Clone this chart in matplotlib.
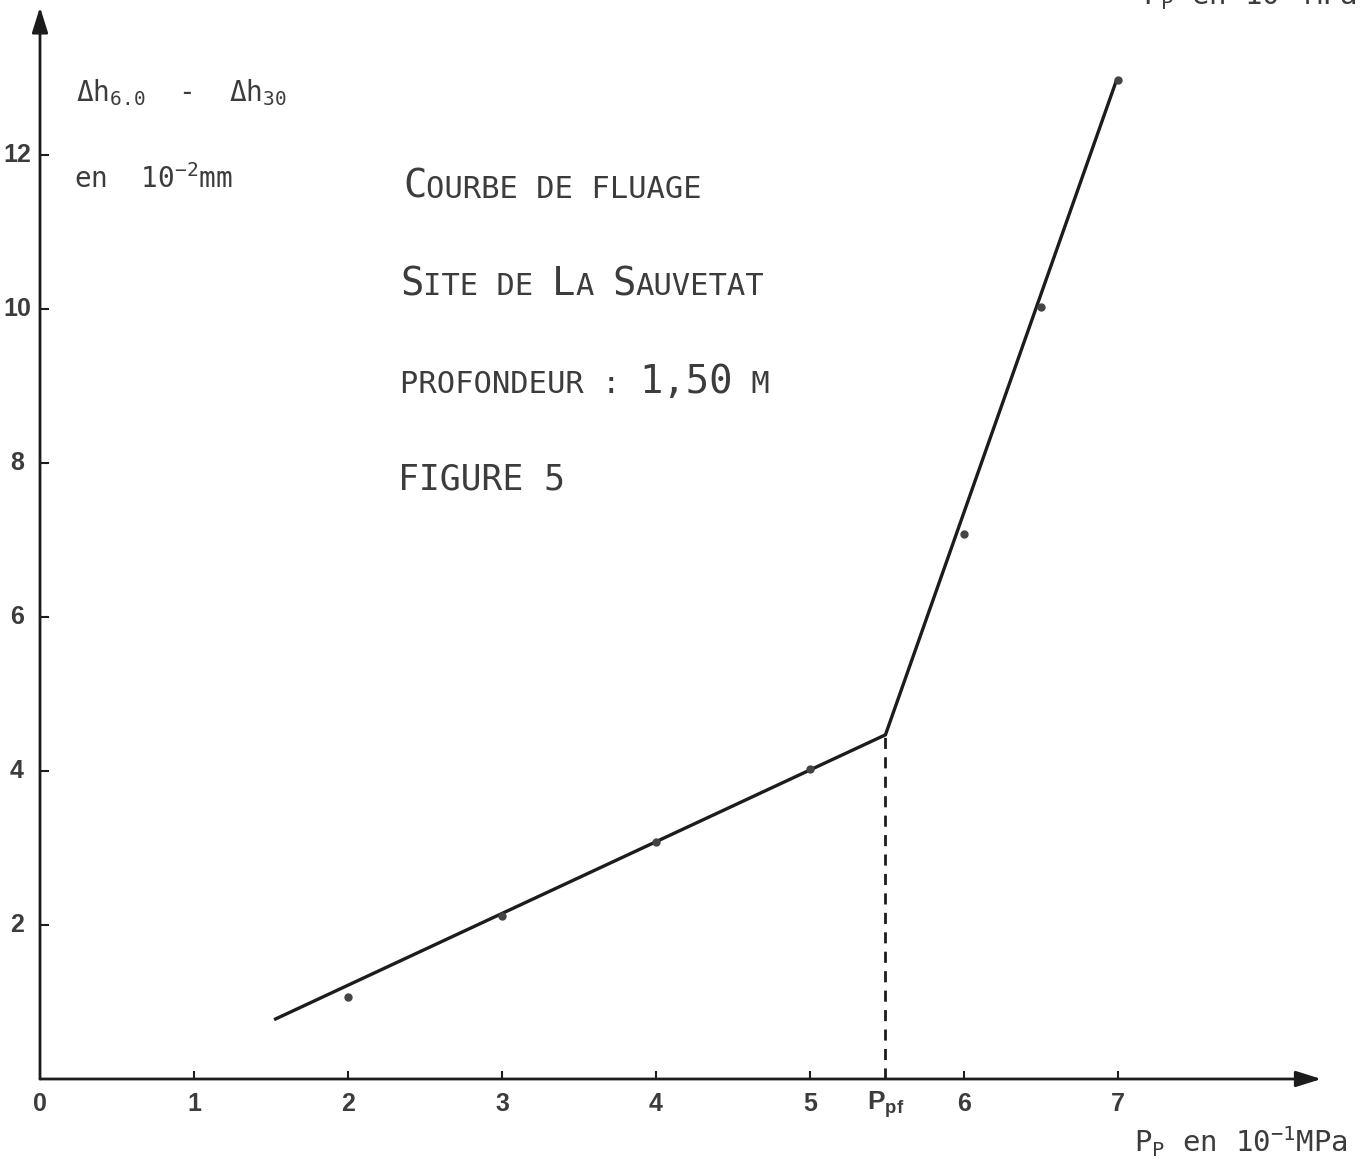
import numpy as np
import matplotlib
matplotlib.use('Agg')
import matplotlib.pyplot as plt

# pression (10^-1 MPa) et fluage dh60 - dh30 (10^-2 mm)
p_mesures = [2, 3, 4, 5, 6, 6.5, 7]
fluage = [1.07, 2.12, 3.08, 4.02, 7.08, 10.02, 12.97]

# droites ajustees : pseudo-elastique puis fluage
p_droite = [1.53, 5.49, 6.99]
fl_droite = [0.78, 4.47, 12.97]
p_pf = 5.49
fl_pf = 4.47

x_ticks = [1, 2, 3, 4, 5, 6, 7]
y_ticks = [2, 4, 6, 8, 10, 12]

plt.rcParams['mathtext.fontset'] = 'custom'
plt.rcParams['mathtext.rm'] = 'DejaVu Sans Mono'
plt.rcParams['mathtext.it'] = 'DejaVu Sans Mono'
plt.rcParams['mathtext.bf'] = 'Liberation Sans:bold'

txt_col = '#3c3c3c'
line_col = '#1c1c1c'
mono = 'DejaVu Sans Mono'

# echelle de la figure : origine a (40, 1079) px, 154 px par unite en x, 77 px en y
W, H = 1370, 1174
ox, oy, sx, sy = 40, 1079, 154, 77

fig = plt.figure(figsize=(W / 100, H / 100), dpi=100)
ax = fig.add_axes([0, 0, 1, 1])
ax.set_xlim(-ox / sx, (W - ox) / sx)
ax.set_ylim(-(H - oy) / sy, oy / sy)
ax.axis('off')


def px(x, y):
    return (x - ox) / sx, (oy - y) / sy


# axes avec fleches
ax.annotate('', xy=(8.32, 0), xytext=(0, 0),
            arrowprops=dict(arrowstyle='-|>,head_length=0.7,head_width=0.22', lw=2, color=line_col,
                            mutation_scale=22, shrinkA=0, shrinkB=0))
ax.annotate('', xy=(0, 13.92), xytext=(0, 0),
            arrowprops=dict(arrowstyle='-|>,head_length=0.7,head_width=0.22', lw=2, color=line_col,
                            mutation_scale=22, shrinkA=0, shrinkB=0))

for t in x_ticks:
    ax.plot([t, t], [0, 0.09], color=line_col, lw=1.5)
    ax.text(t, -0.33, str(t), ha='center', va='center', fontsize=18, fontweight='bold',
            family='Liberation Sans', color=txt_col)
ax.text(0, -0.33, '0', ha='center', va='center', fontsize=18, fontweight='bold',
        family='Liberation Sans', color=txt_col)
for t in y_ticks:
    ax.plot([0, 0.05], [t, t], color=line_col, lw=1.5)
    ax.text(-0.15, t, str(t), ha='center', va='center', fontsize=18, fontweight='bold',
            family='Liberation Sans', color=txt_col)

# courbe
ax.plot(p_droite, fl_droite, color=line_col, lw=2.4, solid_joinstyle='miter')
ax.plot(p_mesures, fluage, 'o', color='#444444', ms=5, ls='none')
ax.plot([p_pf, p_pf], [0, fl_pf], color=line_col, lw=2, ls=(0, (4, 3)))
ax.text(p_pf, -0.33, r'P$_{\mathbf{pf}}$', ha='center', va='center', fontsize=19,
        fontweight='bold', family='Liberation Sans', color=txt_col)


def petites_caps(x, y, s, big=28, small=22):
    # majuscules en grand, minuscules en petites capitales
    off = 0
    runs = []
    for ch in s:
        size = big if (ch.isupper() or ch.isdigit() or ch == ',') else small
        if runs and runs[-1][1] == size:
            runs[-1][0] += ch.upper()
        else:
            runs.append([ch.upper(), size])
    for seg, size in runs:
        ax.annotate(seg, xy=(x, y), xytext=(off, 0), textcoords='offset points',
                    fontsize=size, family=mono, va='baseline', ha='left', color=txt_col)
        off += len(seg) * 0.602 * size


petites_caps(*px(403, 198), 'Courbe de fluage')
petites_caps(*px(400, 295), 'Site de La Sauvetat')
petites_caps(*px(400, 393), 'profondeur : 1,50 m')
ax.text(*px(398, 489), 'FIGURE 5', fontsize=25, family=mono, va='baseline', color=txt_col)

# legendes des axes
ax.text(*px(76, 101), r'$\Delta$h$_{6.0}$  -  $\Delta$h$_{30}$', fontsize=20, family=mono,
        va='baseline', color=txt_col)
ax.text(*px(74, 188), r'en  10$^{-2}$mm', fontsize=20, family=mono, va='baseline', color=txt_col)
ax.text(*px(1134, 1152), r'P$_{\mathrm{P}}$ en 10$^{-1}$MPa', fontsize=21, family=mono,
        va='baseline', color=txt_col)
ax.text(*px(1143, 5), r'P$_{\mathrm{P}}$ en 10$^{-1}$MPa', fontsize=21, family=mono,
        va='baseline', color=txt_col, clip_on=False)

fig.savefig('out.png', dpi=100)
